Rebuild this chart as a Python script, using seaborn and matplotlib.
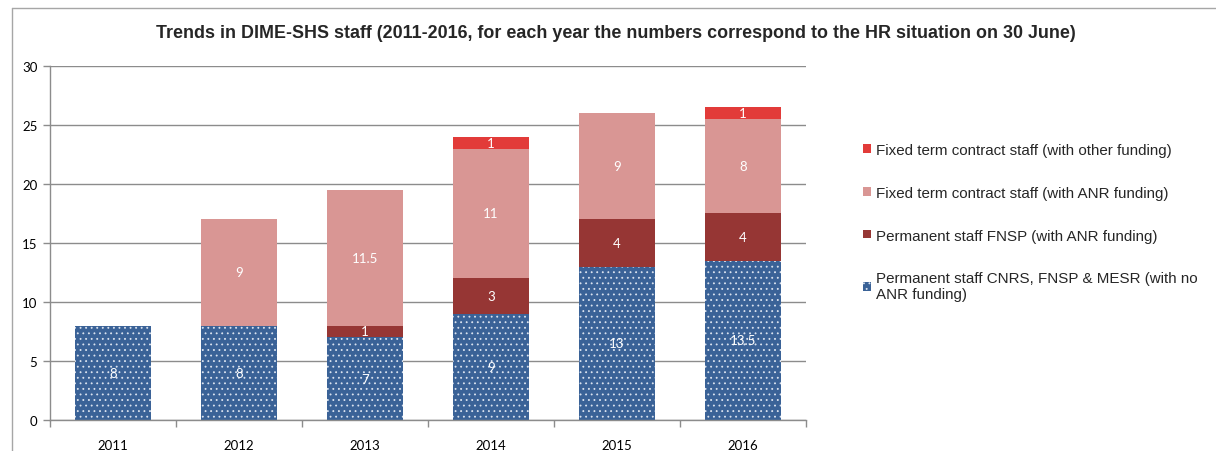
import matplotlib
matplotlib.use("Agg")
import matplotlib.pyplot as plt
import matplotlib.patches as mpatches
from matplotlib.lines import Line2D
import seaborn as sns
import numpy as np

years = ["2011", "2012", "2013", "2014", "2015", "2016"]
perm_cnrs = [8, 8, 7, 9, 13, 13.5]
perm_fnsp = [0, 0, 1, 3, 4, 4]
fixed_anr = [0, 9, 11.5, 11, 9, 8]
fixed_other = [0, 0, 0, 1, 0, 1]

series_names = [
    "Permanent staff CNRS, FNSP & MESR (with no\nANR funding)",
    "Permanent staff FNSP (with ANR funding)",
    "Fixed term contract staff (with ANR funding)",
    "Fixed term contract staff (with other funding)",
]
colors = ["#3A6297", "#963634", "#D99694", "#E23B39"]
title = "Trends in DIME-SHS staff (2011-2016, for each year the numbers correspond to the HR situation on 30 June)"

sns.set_theme(style="white")
plt.rcParams["hatch.color"] = "#DCE4F0"
plt.rcParams["hatch.linewidth"] = 0.6

fig = plt.figure(figsize=(12.16, 4.52), dpi=100)
ax = fig.add_axes([50 / 1216, 1 - 421 / 452, 756 / 1216, 354 / 452])

tick_font = "Lato"
series = [perm_cnrs, perm_fnsp, fixed_anr, fixed_other]
bottom = np.zeros(len(years))
for i, (vals, col) in enumerate(zip(series, colors)):
    vals = np.array(vals, dtype=float)
    if i == 0:
        kw = dict(hatch="...", edgecolor="#DCE4F0", linewidth=0)
    else:
        kw = dict(edgecolor=col, linewidth=0)
    sns.barplot(x=years, y=vals, bottom=bottom, color=col, saturation=1,
                width=0.61, errorbar=None, ax=ax, zorder=2, **kw)
    cont = ax.containers[-1]
    labels = [("{:g}".format(v) if v > 0 else "") for v in vals]
    ax.bar_label(cont, labels=labels, label_type="center", color="white",
                 fontsize=9.5, family=tick_font, zorder=5)
    bottom = bottom + vals

ax.set_xlim(-0.5, 5.5)
ax.set_ylim(0, 30)
ax.set_yticks(np.arange(0, 31, 5))
ax.yaxis.grid(True, color="#8C8C8C", linewidth=1.0)
ax.set_axisbelow(True)
for s in ["top", "right"]:
    ax.spines[s].set_visible(False)
for s in ["left", "bottom"]:
    ax.spines[s].set_color("#8C8C8C")
    ax.spines[s].set_linewidth(1.0)

ax.tick_params(axis="y", which="major", left=True, length=5, width=1,
               color="#8C8C8C", labelsize=9.5, pad=4)
ax.tick_params(axis="x", which="major", bottom=False, labelsize=9.5, pad=8)
ax.set_xticks(np.arange(-0.5, 6.0, 1.0), minor=True)
ax.tick_params(axis="x", which="minor", bottom=True, length=5, width=1,
               color="#8C8C8C")
for lab in ax.get_xticklabels() + ax.get_yticklabels():
    lab.set_family(tick_font)
    lab.set_color("#000000")
ax.set_xlabel("")
ax.set_ylabel("")

fig.text(616 / 1216, 1 - 33 / 452, title, ha="center", va="center",
         fontsize=12.9, fontweight="bold", family="Liberation Sans")

handles = [mpatches.Patch(facecolor=c, edgecolor="#DCE4F0", linewidth=0,
                          hatch=("..." if i == 0 else None))
           for i, c in enumerate(colors)]
leg = fig.legend(handles[::-1], series_names[::-1],
                 loc="upper left", bbox_to_anchor=(863 / 1216, 1 - 144 / 452),
                 frameon=False, prop={"family": "Liberation Sans", "size": 10.9},
                 handlelength=0.5, handleheight=0.5, handletextpad=0.35,
                 labelspacing=1.9, borderaxespad=0, borderpad=0)

# outer chart frame (top and left edges)
fig.add_artist(Line2D([12 / 1216, 1], [1 - 9 / 452, 1 - 9 / 452],
                      transform=fig.transFigure, color="#A6A6A6", linewidth=1))
fig.add_artist(Line2D([12 / 1216, 12 / 1216], [0, 1 - 9 / 452],
                      transform=fig.transFigure, color="#A6A6A6", linewidth=1))

fig.savefig("out.png", dpi=100)
